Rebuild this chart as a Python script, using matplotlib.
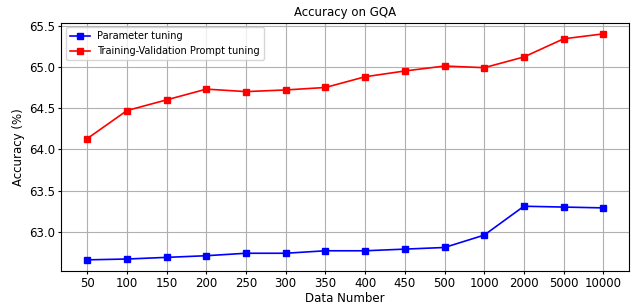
import matplotlib
matplotlib.use("Agg")
import matplotlib.pyplot as plt

# Data
data_numbers = ["50", "100", "150", "200", "250", "300", "350", "400",
                "450", "500", "1000", "2000", "5000", "10000"]
param_tuning = [62.66, 62.67, 62.69, 62.71, 62.74, 62.74, 62.77, 62.77,
                62.79, 62.81, 62.96, 63.31, 63.30, 63.29]
prompt_tuning = [64.13, 64.47, 64.60, 64.73, 64.70, 64.72, 64.75, 64.88,
                 64.95, 65.01, 64.99, 65.12, 65.34, 65.40]

fig, ax = plt.subplots(figsize=(6.4, 3.05), dpi=100)
x = range(len(data_numbers))
ax.plot(x, param_tuning, marker="s", color="blue", markersize=4,
        linewidth=1.2, label="Parameter tuning")
ax.plot(x, prompt_tuning, marker="s", color="red", markersize=4,
        linewidth=1.2, label="Training-Validation Prompt tuning")

ax.set_xticks(list(x))
ax.set_xticklabels(data_numbers)
ax.set_xlabel("Data Number", fontsize=8.5, labelpad=1)
ax.set_ylabel("Accuracy (%)", fontsize=8.5, labelpad=3)
ax.set_title("Accuracy on GQA", fontsize=8.5, pad=5)
ax.tick_params(labelsize=8.5, length=2.5, pad=2)
ax.grid(True)
ax.legend(loc="upper left", fontsize=7)

fig.subplots_adjust(left=0.096, right=0.983, top=0.926, bottom=0.111)
plt.savefig("out.png")
